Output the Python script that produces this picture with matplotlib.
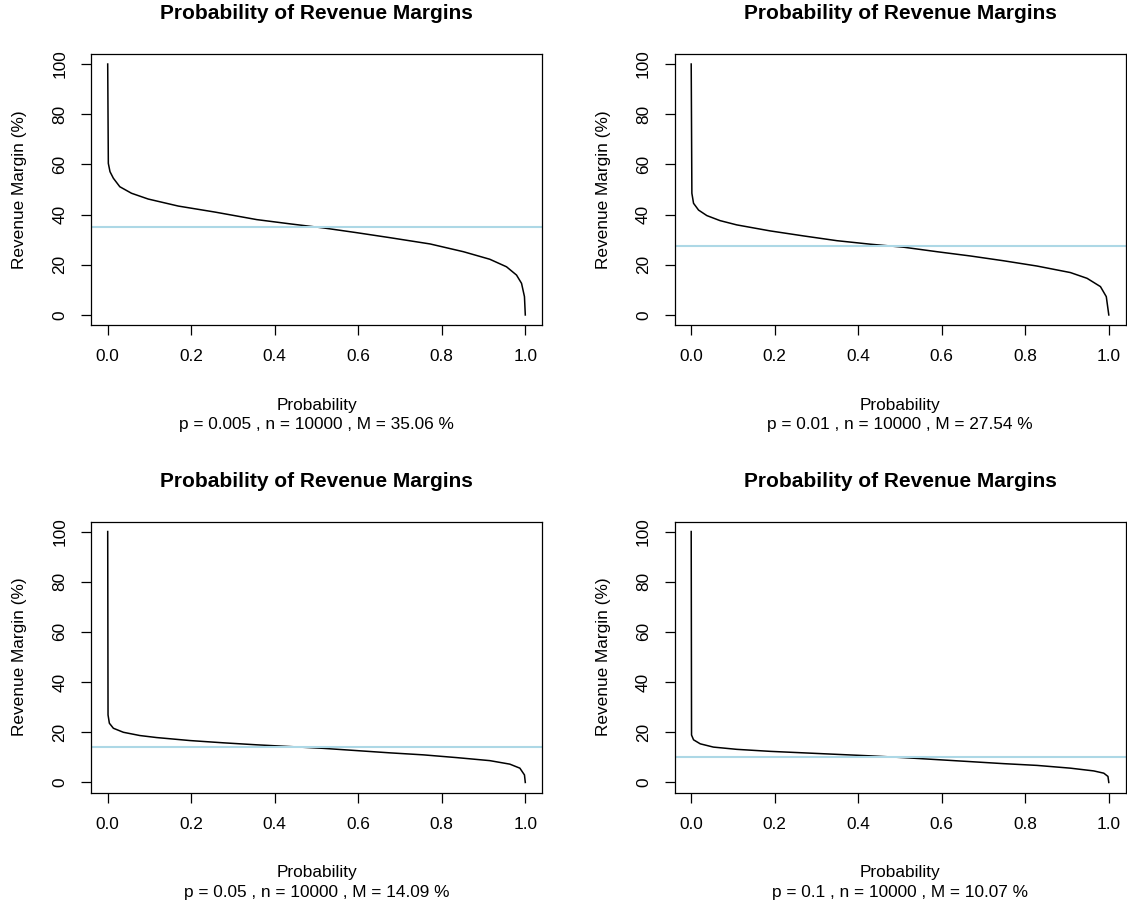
import matplotlib.pyplot as plt

plt.rcParams["font.family"] = ["Liberation Sans", "DejaVu Sans"]

# values, one curve per panel
prob_a = [0.0, 0.0015, 0.0055, 0.0135, 0.029, 0.057, 0.097, 0.169, 0.257, 0.357, 0.437,
          0.516, 0.596, 0.676, 0.772, 0.852, 0.915, 0.955, 0.979, 0.991, 0.998, 1.0]
margin_a = [100, 60.4, 57.1, 54.5, 51.1, 48.5, 46.2, 43.4, 41.0, 38.0, 36.3,
            34.7, 32.8, 30.8, 28.3, 25.2, 22.2, 19.2, 15.9, 12.6, 7.3, 0]

prob_b = [0.0, 0.0016, 0.0056, 0.0176, 0.0375, 0.069, 0.109, 0.189, 0.269, 0.349, 0.429,
          0.509, 0.589, 0.669, 0.748, 0.828, 0.908, 0.948, 0.980, 0.994, 1.0]
margin_b = [100, 48.5, 44.5, 41.8, 39.6, 37.6, 35.9, 33.5, 31.5, 29.6, 28.2,
            27.0, 25.2, 23.5, 21.6, 19.5, 16.9, 14.6, 11.3, 7.3, 0]

prob_c = [0.0, 0.0008, 0.004, 0.0136, 0.0375, 0.077, 0.117, 0.197, 0.277, 0.357, 0.437,
          0.516, 0.596, 0.676, 0.756, 0.836, 0.915, 0.963, 0.987, 0.998, 1.0]
margin_c = [100, 26.9, 23.6, 21.6, 20.0, 18.7, 17.9, 16.7, 15.8, 15.0, 14.3,
            13.6, 12.7, 11.8, 11.0, 9.9, 8.7, 7.3, 5.7, 3.0, 0]

prob_d = [0.0, 0.0008, 0.0056, 0.0216, 0.053, 0.109, 0.189, 0.269, 0.349, 0.429,
          0.509, 0.589, 0.669, 0.748, 0.828, 0.908, 0.964, 0.988, 0.998, 1.0]
margin_d = [100, 18.9, 17.0, 15.4, 14.1, 13.2, 12.4, 11.8, 11.2, 10.6,
            9.9, 9.1, 8.3, 7.5, 6.8, 5.7, 4.6, 3.7, 2.4, 0]

p_values = ["0.005", "0.01", "0.05", "0.1"]
n_values = [10000, 10000, 10000, 10000]
mean_margins = [35.06, 27.54, 14.09, 10.07]

curves = [(prob_a, margin_a), (prob_b, margin_b), (prob_c, margin_c), (prob_d, margin_d)]

fig = plt.figure(figsize=(11.27, 9.08), dpi=100)
W, H = 1127, 908
boxes = [(91, 54), (674.5, 54), (91, 521.5), (674.5, 521.5)]  # left, top in px

for i, (left, top) in enumerate(boxes):
    ax = fig.add_axes([left / W, (H - top - 271) / H, 451 / W, 271 / H])
    x, y = curves[i]
    ax.plot(x, y, color="black", lw=1.1)
    ax.axhline(mean_margins[i], color="#add8e6", lw=1.5)
    ax.set_xlim(-0.04, 1.04)
    ax.set_ylim(-4, 104)
    ax.set_xticks([0.0, 0.2, 0.4, 0.6, 0.8, 1.0])
    ax.set_xticklabels(["0.0", "0.2", "0.4", "0.6", "0.8", "1.0"])
    ax.set_yticks([0, 20, 40, 60, 80, 100])
    for s in ax.spines.values():
        s.set_linewidth(0.9)
    ax.tick_params(axis="x", length=7.5, width=0.9, pad=10, labelsize=12.4)
    ax.tick_params(axis="y", length=7.5, width=0.9, pad=9.4, labelsize=12.4)
    plt.setp(ax.get_yticklabels(), rotation=90, va="center")

    ax.annotate("Probability of Revenue Margins", xy=(0.5, 1), xycoords="axes fraction",
                xytext=(0, 25.2), textcoords="offset points", ha="center",
                va="baseline", fontsize=15, fontweight="bold")
    ax.annotate("Probability", xy=(0.5, 0), xycoords="axes fraction",
                xytext=(0, -61.2), textcoords="offset points", ha="center",
                va="baseline", fontsize=12.4)
    sub = f"p = {p_values[i]} , n = {n_values[i]} , M = {mean_margins[i]:.2f} %"
    ax.annotate(sub, xy=(0.5, 0), xycoords="axes fraction",
                xytext=(0, -74.9), textcoords="offset points", ha="center",
                va="baseline", fontsize=12.4)
    ax.annotate("Revenue Margin (%)", xy=(0, 0.5), xycoords="axes fraction",
                xytext=(-48.2, 0), textcoords="offset points", ha="center",
                va="baseline", rotation=90, rotation_mode="anchor", fontsize=12.4)

fig.savefig("out.png", dpi=100)
